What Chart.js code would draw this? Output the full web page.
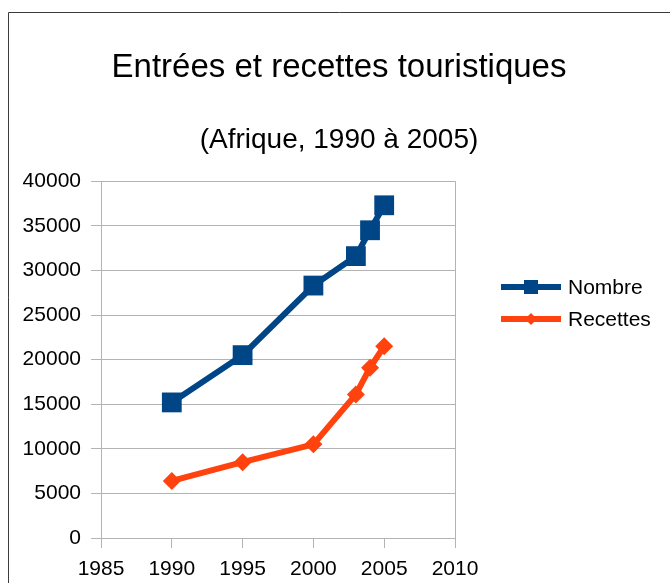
<!DOCTYPE html>
<html>
<head>
<meta charset="utf-8">
<script src="https://cdn.jsdelivr.net/npm/chart.js@4.4.1/dist/chart.umd.min.js"></script>
<style>
  html, body { margin: 0; padding: 0; background: #fff; }
  #wrap { width: 670px; height: 583px; position: relative; }
</style>
</head>
<body>
<div id="wrap"><canvas id="tourismChart"></canvas></div>
<script>
// Values
const years = [1990, 1995, 2000, 2003, 2004, 2005];
const nombre = [15200, 20500, 28300, 31600, 34500, 37300];
const recettes = [6400, 8500, 10500, 16100, 19100, 21500];
const xTicks = [1985, 1990, 1995, 2000, 2005, 2010];
const yTicks = [0, 5000, 10000, 15000, 20000, 25000, 30000, 35000, 40000];
const seriesNames = ['Nombre', 'Recettes'];

const FONT = '"Liberation Sans", Arial, sans-serif';
const GRID = '#b3b3b3';
const BLUE = '#004586';
const ORANGE = '#ff420e';

// white background + the frame visible on the left and top
const framePlugin = {
    id: 'frame',
    beforeDraw(chart) {
        const ctx = chart.ctx;
        ctx.save();
        ctx.fillStyle = '#fff';
        ctx.fillRect(0, 0, chart.width, chart.height);
        ctx.strokeStyle = '#3c3c3c';
        ctx.lineWidth = 1;
        ctx.beginPath();
        ctx.moveTo(8.5, chart.height);
        ctx.lineTo(8.5, 12.5);
        ctx.lineTo(chart.width, 12.5);
        ctx.stroke();
        ctx.restore();
    }
};

// legend: thick line with the marker in the middle, like the original
const sideLegend = {
    id: 'sideLegend',
    afterDraw(chart) {
        const ctx = chart.ctx;
        ctx.save();
        chart.data.datasets.forEach((ds, i) => {
            const y = 287 + i * 32;
            ctx.strokeStyle = ds.borderColor;
            ctx.fillStyle = ds.borderColor;
            ctx.lineWidth = 6;
            ctx.beginPath();
            ctx.moveTo(501, y);
            ctx.lineTo(561, y);
            ctx.stroke();
            ctx.beginPath();
            if (ds.pointStyle === 'rect') {
                ctx.rect(531 - 7, y - 7, 14, 14);
            } else {
                ctx.moveTo(531, y - 6);
                ctx.lineTo(537, y);
                ctx.lineTo(531, y + 6);
                ctx.lineTo(525, y);
                ctx.closePath();
            }
            ctx.fill();
            ctx.fillStyle = '#000';
            ctx.font = '21px ' + FONT;
            ctx.textBaseline = 'middle';
            ctx.textAlign = 'left';
            ctx.fillText(ds.label, 568, y + 1);
        });
        ctx.restore();
    }
};

const toPoints = vals => years.map((yr, i) => ({ x: yr, y: vals[i] }));

new Chart(document.getElementById('tourismChart'), {
    type: 'line',
    data: {
        datasets: [{
            label: seriesNames[0],
            data: toPoints(nombre),
            borderColor: BLUE,
            backgroundColor: BLUE,
            borderWidth: 6,
            pointStyle: 'rect',
            pointRadius: 14,
            pointHoverRadius: 14,
            pointBorderWidth: 0,
            tension: 0,
            clip: false
        }, {
            label: seriesNames[1],
            data: toPoints(recettes),
            borderColor: ORANGE,
            backgroundColor: ORANGE,
            borderWidth: 6,
            pointStyle: 'rectRot',
            pointRadius: 9,
            pointHoverRadius: 9,
            pointBorderWidth: 0,
            tension: 0,
            clip: false
        }]
    },
    options: {
        responsive: true,
        maintainAspectRatio: false,
        animation: false,
        layout: {
            padding: { left: 8, right: 0, top: 0, bottom: 0 }
        },
        scales: {
            x: {
                type: 'linear',
                min: 1985,
                max: 2010,
                afterBuildTicks: scale => { scale.ticks = xTicks.map(v => ({ value: v })); },
                afterFit: scale => { scale.height = 45; },
                grid: {
                    // only the left and right edges, tick marks at every year
                    color: c => (c.index === 0 || c.index === xTicks.length - 1) ? GRID : 'rgba(0,0,0,0)',
                    tickColor: GRID,
                    tickLength: 10
                },
                border: { color: GRID },
                ticks: {
                    color: '#000',
                    padding: 9,
                    maxRotation: 0,
                    font: { family: FONT, size: 21 },
                    callback: v => String(v)
                }
            },
            y: {
                min: 0,
                max: 40000,
                afterBuildTicks: scale => { scale.ticks = yTicks.map(v => ({ value: v })); },
                afterFit: scale => { scale.width = 93; },
                grid: {
                    color: GRID,
                    tickColor: GRID,
                    tickLength: 10
                },
                border: { color: GRID },
                ticks: {
                    color: '#000',
                    padding: 10,
                    font: { family: FONT, size: 21 },
                    callback: v => String(v)
                }
            },
            // empty axis on the right, keeps room for the legend
            room: {
                type: 'linear',
                position: 'right',
                display: true,
                afterFit: scale => { scale.width = 215; },
                grid: { display: false },
                border: { display: false },
                ticks: { display: false }
            }
        },
        plugins: {
            legend: { display: false },
            tooltip: { enabled: false },
            title: {
                display: true,
                text: 'Entrées et recettes touristiques',
                color: '#000',
                font: { family: FONT, size: 33, weight: 'normal' },
                padding: { top: 48, bottom: 19 }
            },
            subtitle: {
                display: true,
                text: '(Afrique, 1990 à 2005)',
                color: '#000',
                font: { family: FONT, size: 28, weight: 'normal' },
                padding: { top: 17, bottom: 24 }
            }
        }
    },
    plugins: [framePlugin, sideLegend]
});
</script>
</body>
</html>
